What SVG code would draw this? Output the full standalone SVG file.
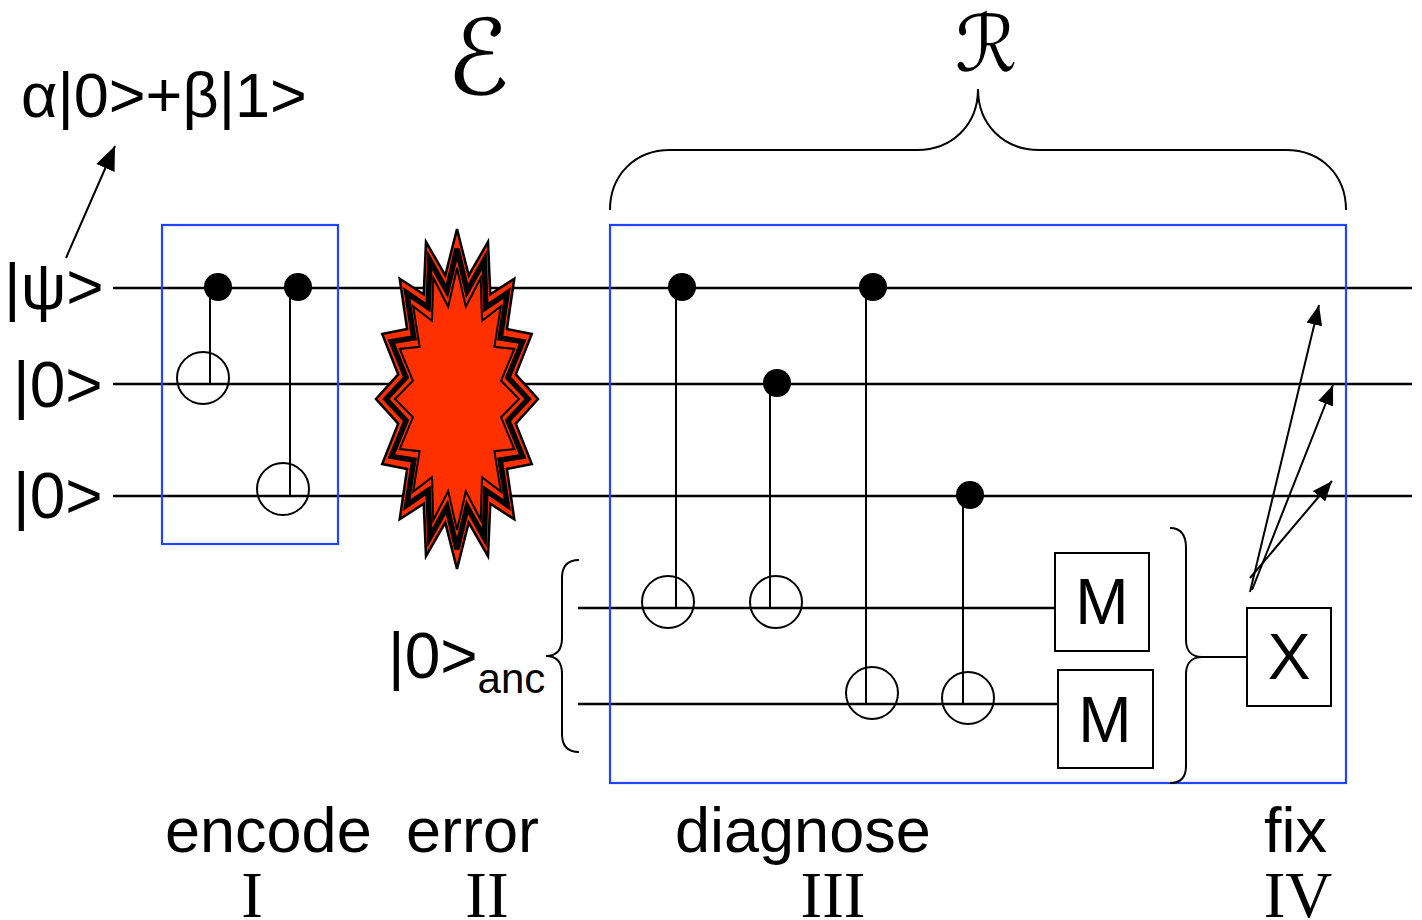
<svg xmlns="http://www.w3.org/2000/svg" width="1422" height="920" viewBox="0 0 1422 920">
<defs>
<style>
.w{stroke:#000;stroke-width:2.5;fill:none}
.v{stroke:#000;stroke-width:2;fill:none}
.t{stroke:#000;stroke-width:2;fill:none}
.dot{fill:#000}
.box{stroke:#2244ff;stroke-width:2.2;fill:none}
.gb{stroke:#000;stroke-width:2;fill:#fff}
.s{font-family:"Liberation Sans",Arial,sans-serif;fill:#000}
.r{font-family:"Liberation Serif","Times New Roman",serif;fill:#000}
.cal{font-family:"DejaVu Serif","DejaVu Sans",serif;fill:#000}
.br{stroke:#000;stroke-width:2;fill:none}
.burst{fill:#ff3000;stroke:#000;stroke-linejoin:miter}
</style>
<marker id="ah" viewBox="0 0 20 16" refX="20" refY="8" markerWidth="20" markerHeight="16" markerUnits="userSpaceOnUse" orient="auto"><polygon points="0,0 20,8 0,16" fill="#000"/></marker>
<marker id="ah2" viewBox="0 0 24 20" refX="24" refY="10" markerWidth="24" markerHeight="20" markerUnits="userSpaceOnUse" orient="auto"><polygon points="0,0 24,10 0,20" fill="#000"/></marker>
</defs>
<rect width="1422" height="920" fill="#fff"/>

<g id="wires">
<line class="w" x1="113" y1="288" x2="1412" y2="288"/>
<line class="w" x1="113" y1="384" x2="1412" y2="384"/>
<line class="w" x1="113" y1="496" x2="1412" y2="496"/>
<line class="w" x1="578" y1="608" x2="1059" y2="608"/>
<line class="w" x1="578" y1="704" x2="1058" y2="704"/>
</g>

<g id="connectors">
<line class="v" x1="210" y1="288" x2="210" y2="384"/>
<line class="v" x1="290" y1="288" x2="290" y2="496"/>
<line class="v" x1="676" y1="288" x2="676" y2="608"/>
<line class="v" x1="770" y1="384" x2="770" y2="608"/>
<line class="v" x1="866" y1="288" x2="866" y2="704"/>
<line class="v" x1="963" y1="496" x2="963" y2="704"/>
<line class="v" x1="1202" y1="657" x2="1250" y2="657"/>
<line class="v" x1="66" y1="258" x2="115" y2="146" marker-end="url(#ah2)"/>
<line class="v" x1="1250" y1="592" x2="1319" y2="305" marker-end="url(#ah)"/>
<line class="v" x1="1252" y1="590" x2="1333" y2="385" marker-end="url(#ah)"/>
<line class="v" x1="1250" y1="578" x2="1332" y2="481" marker-end="url(#ah)"/>
</g>

<g id="encode-box"><rect class="box" x="162" y="225" width="176" height="319"/></g>
<g id="recovery-box"><rect class="box" x="610" y="225" width="736" height="558"/></g>

<g id="controls">
<circle class="dot" cx="218" cy="287" r="14"/>
<circle class="dot" cx="298" cy="287" r="14"/>
<circle class="dot" cx="682" cy="287" r="14"/>
<circle class="dot" cx="777" cy="383" r="14"/>
<circle class="dot" cx="873" cy="287" r="14"/>
<circle class="dot" cx="970" cy="495" r="14"/>
</g>
<g id="targets">
<circle class="t" cx="203" cy="378" r="26"/>
<circle class="t" cx="283" cy="489" r="26"/>
<circle class="t" cx="668" cy="602" r="26"/>
<circle class="t" cx="776" cy="602" r="26"/>
<circle class="t" cx="872" cy="693" r="26"/>
<circle class="t" cx="968" cy="698" r="26"/>
</g>

<g id="error-burst">
<polygon class="burst" stroke-width="2.5" points="457,229 468.7,275.4 488,241.9 490.3,294.2 514.3,278.8 506.9,329 531.8,333.9 515.8,374.4 538,399 515.8,423.6 531.8,464.1 506.9,469 514.3,519.2 490.3,503.8 488,556.1 468.7,522.6 457,569 445.3,522.6 426,556.1 423.7,503.8 399.7,519.2 407.1,469 382.2,464.1 398.2,423.6 376,399 398.2,374.4 382.2,333.9 407.1,329 399.7,278.8 423.7,294.2 426,241.9 445.3,275.4"/>
<polygon class="burst" stroke-width="5.5" points="457,249 467.1,291.1 484.2,260.4 485.9,307.5 507.2,292.9 500.2,337.9 522.6,341.6 508,377.5 528,399 508,420.5 522.6,456.4 500.2,460.1 507.2,505.1 485.9,490.5 484.2,537.6 467.1,506.9 457,549 446.9,506.9 429.8,537.6 428.1,490.5 406.8,505.1 413.8,460.1 391.4,456.4 406,420.5 386,399 406,377.5 391.4,341.6 413.8,337.9 406.8,292.9 428.1,307.5 429.8,260.4 446.9,291.1"/>
<polygon class="burst" stroke-width="2" points="457,268 465.8,306.8 480.7,278 482,320.8 500.8,306.4 494.4,346.8 514.3,348.9 501.1,380.7 519,399 501.1,417.3 514.3,449.1 494.4,451.2 500.8,491.6 482,477.2 480.7,520 465.8,491.2 457,530 448.2,491.2 433.3,520 432,477.2 413.2,491.6 419.6,451.2 399.7,449.1 412.9,417.3 395,399 412.9,380.7 399.7,348.9 419.6,346.8 413.2,306.4 432,320.8 433.3,278 448.2,306.8"/>
</g>

<g id="measure-1"><rect class="gb" x="1055" y="553" width="94" height="98"/><text class="s" x="1102" y="624" font-size="64" text-anchor="middle">M</text></g>
<g id="measure-2"><rect class="gb" x="1058" y="670" width="95" height="98"/><text class="s" x="1105" y="742" font-size="64" text-anchor="middle">M</text></g>
<g id="fix-gate"><rect class="gb" x="1247" y="608" width="84" height="98"/><text class="s" x="1289" y="679" font-size="64" text-anchor="middle">X</text></g>

<g id="braces">
<path class="br" d="M610,210 C610,175 635,150 670,150 L917,150 C952,150 978,125 978,89 C978,125 1004,150 1039,150 L1286,150 C1321,150 1346,175 1346,210"/>
<path class="br" d="M579,560 C567,560 562,566 562,578 L562,638 C562,650 556,656 546,656 C556,656 562,662 562,674 L562,734 C562,746 567,752 579,752"/>
<path class="br" d="M1170,528 C1180,528 1186,534 1186,548 L1186,640 C1186,651 1192,657 1202,657 C1192,657 1186,663 1186,674 L1186,766 C1186,778 1180,783 1170,783"/>
</g>

<g id="labels">
<text class="s" x="21" y="117" font-size="63">α|0&gt;+β|1&gt;</text>
<text class="s" x="4" y="309" font-size="64">|ψ&gt;</text>
<text class="s" x="13" y="407" font-size="64">|0&gt;</text>
<text class="s" x="13" y="518" font-size="64">|0&gt;</text>
<text class="s" x="388" y="678" font-size="64">|0&gt;<tspan font-size="42" dy="15">anc</tspan></text>
<text class="cal" x="478" y="94" font-size="104" text-anchor="middle" font-style="italic">ℰ</text>
<text class="cal" x="986" y="71" font-size="78" text-anchor="middle" font-style="italic">ℛ</text>
<text class="s" x="165" y="852" font-size="63">encode</text>
<text class="s" x="406" y="852" font-size="63">error</text>
<text class="s" x="675" y="852" font-size="63">diagnose</text>
<text class="s" x="1264" y="852" font-size="63">fix</text>
<text class="r" x="252" y="917" font-size="65" text-anchor="middle">I</text>
<text class="r" x="487" y="917" font-size="65" text-anchor="middle">II</text>
<text class="r" x="833" y="917" font-size="65" text-anchor="middle">III</text>
<text class="r" x="1298" y="917" font-size="65" text-anchor="middle">IV</text>
</g>
</svg>
